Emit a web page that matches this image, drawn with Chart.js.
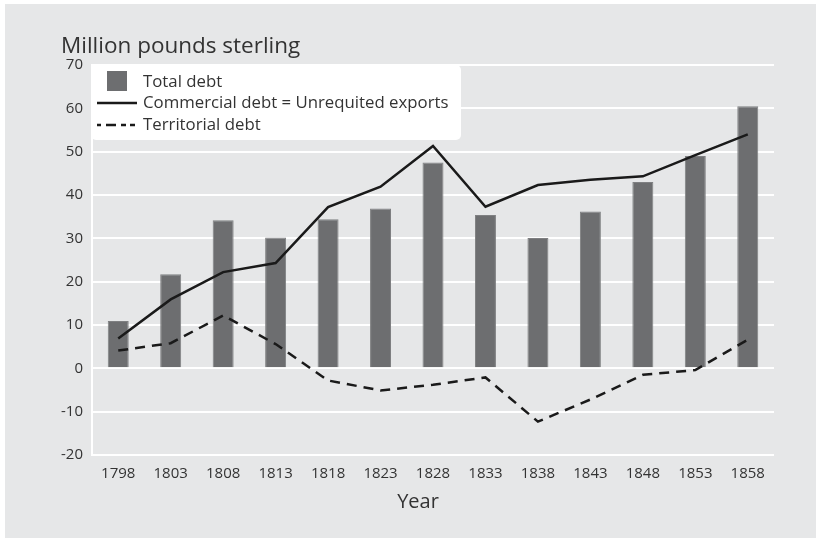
<!DOCTYPE html>
<html lang="en">

<head>
    <meta charset="UTF-8">
    <title>Debt</title>
    <script src="https://cdn.jsdelivr.net/npm/chart.js"></script>
    <style>
        body { margin: 0; background: #ffffff; }
        #wrap { width: 816px; height: 538px; position: relative; }
    </style>
</head>

<body>
    <div id="wrap">
        <canvas id="grafico"></canvas>
    </div>
</body>

</html>
<script>

    // dados
    var anos = ['1798', '1803', '1808', '1813', '1818', '1823', '1828', '1833', '1838', '1843', '1848', '1853', '1858'];
    var dividaTotal = [10.9, 21.7, 34.2, 30.2, 34.4, 36.9, 47.5, 35.4, 30.1, 36.2, 43.0, 49.0, 60.5];
    var dividaComercial = [6.9, 15.9, 22.2, 24.3, 37.2, 41.9, 51.3, 37.3, 42.3, 43.5, 44.3, 49.2, 54.0];
    var dividaTerritorial = [4.1, 5.8, 12.2, 5.6, -2.8, -5.1, -3.8, -2.1, -12.3, -7.2, -1.5, -0.4, 6.6];
    var ticksY = [-20, -10, 0, 10, 20, 30, 40, 50, 60, 70];

    var fonte = "'Open Sans', sans-serif";
    var corTexto = '#333333';

    var fundo = {
        id: 'fundo',
        beforeDraw: function (chart) {
            var c = chart.ctx;
            c.save();
            c.fillStyle = '#ffffff';
            c.fillRect(0, 0, chart.width, chart.height);
            c.fillStyle = '#e6e7e8';
            c.fillRect(5, 4, chart.width - 5, chart.height - 4);
            c.restore();
        },
        afterDraw: function (chart) {
            var c = chart.ctx;
            var area = chart.chartArea;
            c.save();

            // titulos
            c.fillStyle = corTexto;
            c.textBaseline = 'alphabetic';
            c.font = '22.5px ' + fonte;
            c.textAlign = 'left';
            c.fillText('Million pounds sterling', 61, 53);
            c.font = '20px ' + fonte;
            c.textAlign = 'center';
            c.fillText('Year', 418, 508);

            // legenda
            var x0 = area.left - 1, y0 = area.top;
            c.fillStyle = '#ffffff';
            c.beginPath();
            c.roundRect(x0, y0, 370, 75, 5);
            c.fill();

            c.fillStyle = '#6d6e70';
            c.fillRect(x0 + 16, y0 + 6, 20, 20);

            c.strokeStyle = '#1a1a1a';
            c.lineWidth = 2.5;
            c.beginPath();
            c.moveTo(x0 + 6, y0 + 38);
            c.lineTo(x0 + 46, y0 + 38);
            c.stroke();

            c.setLineDash([4, 5, 10, 5, 5]);
            c.beginPath();
            c.moveTo(x0 + 6, y0 + 60);
            c.lineTo(x0 + 47, y0 + 60);
            c.stroke();
            c.setLineDash([]);

            c.fillStyle = corTexto;
            c.font = '16.8px ' + fonte;
            c.textAlign = 'left';
            c.textBaseline = 'middle';
            c.fillText('Total debt', x0 + 52, y0 + 17);
            c.fillText('Commercial debt = Unrequited exports', x0 + 52, y0 + 38);
            c.fillText('Territorial debt', x0 + 52, y0 + 60);
            c.restore();
        }
    };

    const ctx = document.getElementById('grafico');

    new Chart(ctx, {
        type: 'bar',
        data: {
            labels: anos,
            datasets: [{
                type: 'line',
                label: 'Commercial debt = Unrequited exports',
                data: dividaComercial,
                borderColor: '#1a1a1a',
                borderWidth: 2.5,
                pointRadius: 0,
                tension: 0,
                order: 1
            }, {
                type: 'line',
                label: 'Territorial debt',
                data: dividaTerritorial,
                borderColor: '#1a1a1a',
                borderWidth: 2.5,
                borderDash: [10, 7],
                pointRadius: 0,
                tension: 0,
                order: 2
            }, {
                label: 'Total debt',
                data: dividaTotal,
                backgroundColor: '#6d6e70',
                borderColor: '#7f8082',
                borderWidth: 1,
                categoryPercentage: 0.8,
                barPercentage: 0.5,
                order: 3
            }]
        },
        options: {
            responsive: true,
            maintainAspectRatio: false,
            animation: false,
            layout: {
                padding: { left: 5, top: 65, right: 42, bottom: 0 }
            },
            plugins: {
                legend: { display: false },
                tooltip: { enabled: false }
            },
            scales: {
                x: {
                    offset: true,
                    grid: { display: false, drawTicks: false },
                    border: { display: false },
                    ticks: {
                        color: corTexto,
                        padding: 10,
                        font: { family: fonte, size: 15 }
                    },
                    afterFit: function (scale) { scale.height = 83; }
                },
                y: {
                    min: -20,
                    max: 70,
                    afterBuildTicks: function (scale) {
                        scale.ticks = ticksY.map(function (v) { return { value: v }; });
                    },
                    grid: { color: '#ffffff', lineWidth: 2, drawTicks: false },
                    border: { display: true, color: '#ffffff', width: 2 },
                    ticks: {
                        color: corTexto,
                        padding: 9,
                        font: { family: fonte, size: 15 }
                    },
                    afterFit: function (scale) { scale.width = 87; }
                }
            }
        },
        plugins: [fundo]
    });

</script>
